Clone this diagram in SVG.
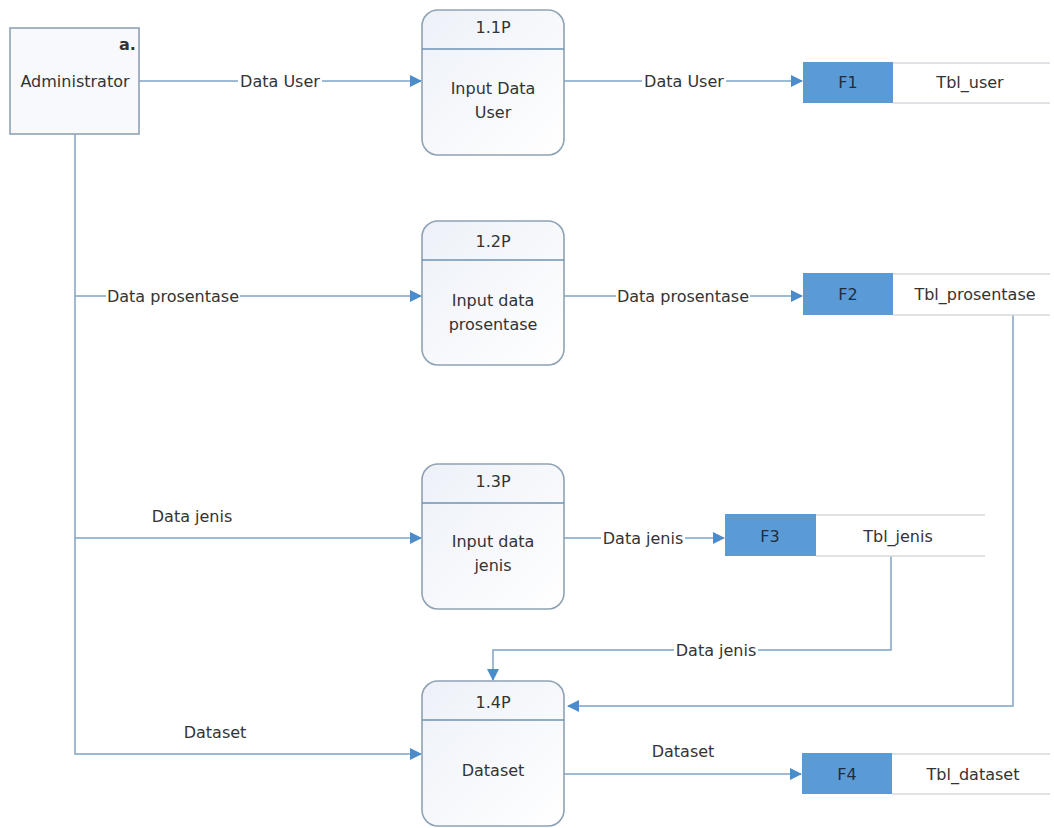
<svg xmlns="http://www.w3.org/2000/svg" width="1054" height="828" viewBox="0 0 1054 828">
  <defs>
    <linearGradient id="procFill" x1="0" y1="0" x2="1" y2="1">
      <stop offset="0" stop-color="#edf1f8"/>
      <stop offset="1" stop-color="#ffffff"/>
    </linearGradient>
    <marker id="arr" viewBox="0 0 12 12" refX="11" refY="6" markerWidth="12" markerHeight="12" markerUnits="userSpaceOnUse" orient="auto">
      <path d="M0,0 L12,6 L0,12 z" fill="#4a8ccc"/>
    </marker>
  </defs>
  <style>
    text { font-family: "DejaVu Sans", "Liberation Sans", sans-serif; font-size: 16px; fill: #333; }
    .c { text-anchor: middle; }
    .flow { fill: none; stroke: #7fa3c4; stroke-width: 1.5; }
    .proc { fill: url(#procFill); stroke: #8ea2b4; stroke-width: 1.6; }
    .div { stroke: #6e93b4; stroke-width: 1.6; }
    .ext { fill: #f7f9fc; stroke: #8ea2b4; stroke-width: 1.6; }
    .sid { fill: #5b9bd5; }
    .sline { stroke: #d6d9dd; stroke-width: 1.5; }
    .lbl { fill: #ffffff; }
    .sidtxt { fill: #1f2d3d; }
  </style>
  <rect width="1054" height="828" fill="#ffffff"/>

  <!-- connectors -->
  <g id="connectors">
    <path class="flow" d="M139,81 H421" marker-end="url(#arr)"/>
    <path class="flow" d="M564,81 H802" marker-end="url(#arr)"/>
    <path class="flow" d="M75,134 V754 H421" marker-end="url(#arr)"/>
    <path class="flow" d="M75,296 H421" marker-end="url(#arr)"/>
    <path class="flow" d="M564,296 H802" marker-end="url(#arr)"/>
    <path class="flow" d="M75,538 H421" marker-end="url(#arr)"/>
    <path class="flow" d="M564,538 H724" marker-end="url(#arr)"/>
    <path class="flow" d="M891,556 V650 H493 V680" marker-end="url(#arr)"/>
    <path class="flow" d="M1013,315 V706 H568" marker-end="url(#arr)"/>
    <path class="flow" d="M564,774 H801" marker-end="url(#arr)"/>

    <!-- labels sitting on the lines -->
    <rect class="lbl" x="238" y="72" width="84" height="18"/>
    <text class="c" x="280" y="87">Data User</text>
    <rect class="lbl" x="642" y="72" width="84" height="18"/>
    <text class="c" x="684" y="87">Data User</text>
    <rect class="lbl" x="106" y="287" width="134" height="18"/>
    <text class="c" x="173" y="302">Data prosentase</text>
    <rect class="lbl" x="616" y="287" width="134" height="18"/>
    <text class="c" x="683" y="302">Data prosentase</text>
    <text class="c" x="192" y="522">Data jenis</text>
    <rect class="lbl" x="601" y="529" width="84" height="18"/>
    <text class="c" x="643" y="544">Data jenis</text>
    <rect class="lbl" x="674" y="641" width="84" height="18"/>
    <text class="c" x="716" y="656">Data jenis</text>
    <text class="c" x="215" y="738">Dataset</text>
    <text class="c" x="683" y="757">Dataset</text>
  </g>

  <!-- external entity -->
  <g id="administrator">
    <rect class="ext" x="10" y="28" width="129" height="106"/>
    <text x="119" y="50" style="font-weight:bold">a.</text>
    <text class="c" x="75" y="87">Administrator</text>
  </g>

  <!-- processes -->
  <g id="p11">
    <rect class="proc" x="422" y="10" width="142" height="145" rx="16"/>
    <line class="div" x1="422" y1="49" x2="564" y2="49"/>
    <text class="c" x="493" y="33">1.1P</text>
    <text class="c" x="493" y="94">Input Data</text>
    <text class="c" x="493" y="118">User</text>
  </g>
  <g id="p12">
    <rect class="proc" x="422" y="221" width="142" height="144" rx="16"/>
    <line class="div" x1="422" y1="260" x2="564" y2="260"/>
    <text class="c" x="493" y="247">1.2P</text>
    <text class="c" x="493" y="306">Input data</text>
    <text class="c" x="493" y="330">prosentase</text>
  </g>
  <g id="p13">
    <rect class="proc" x="422" y="464" width="142" height="145" rx="16"/>
    <line class="div" x1="422" y1="503" x2="564" y2="503"/>
    <text class="c" x="493" y="487">1.3P</text>
    <text class="c" x="493" y="547">Input data</text>
    <text class="c" x="493" y="571">jenis</text>
  </g>
  <g id="p14">
    <rect class="proc" x="422" y="681" width="142" height="145" rx="16"/>
    <line class="div" x1="422" y1="720" x2="564" y2="720"/>
    <text class="c" x="493" y="708">1.4P</text>
    <text class="c" x="493" y="776">Dataset</text>
  </g>

  <!-- data stores -->
  <g id="f1">
    <line class="sline" x1="893" y1="63" x2="1050" y2="63"/>
    <line class="sline" x1="893" y1="103" x2="1050" y2="103"/>
    <rect class="sid" x="803" y="62" width="90" height="41"/>
    <text class="c sidtxt" x="848" y="88">F1</text>
    <text class="c" x="970" y="88">Tbl_user</text>
  </g>
  <g id="f2">
    <line class="sline" x1="893" y1="274" x2="1050" y2="274"/>
    <line class="sline" x1="893" y1="315" x2="1050" y2="315"/>
    <rect class="sid" x="803" y="273" width="90" height="42"/>
    <text class="c sidtxt" x="848" y="300">F2</text>
    <text class="c" x="975" y="300">Tbl_prosentase</text>
  </g>
  <g id="f3">
    <line class="sline" x1="816" y1="515" x2="985" y2="515"/>
    <line class="sline" x1="816" y1="556" x2="985" y2="556"/>
    <rect class="sid" x="725" y="514" width="91" height="42"/>
    <text class="c sidtxt" x="770" y="542">F3</text>
    <text class="c" x="898" y="542">Tbl_jenis</text>
  </g>
  <g id="f4">
    <line class="sline" x1="892" y1="754" x2="1050" y2="754"/>
    <line class="sline" x1="892" y1="794" x2="1050" y2="794"/>
    <rect class="sid" x="802" y="753" width="90" height="41"/>
    <text class="c sidtxt" x="847" y="780">F4</text>
    <text class="c" x="973" y="780">Tbl_dataset</text>
  </g>
</svg>
